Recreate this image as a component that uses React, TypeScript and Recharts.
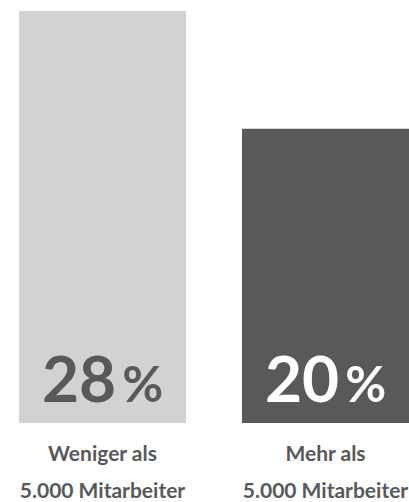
import { BarChart, Bar, XAxis, YAxis, Cell, LabelList } from 'recharts'

const categories = ['Weniger als 5.000 Mitarbeiter', 'Mehr als 5.000 Mitarbeiter']
const categoryLines = [
  ['Weniger als', '5.000 Mitarbeiter'],
  ['Mehr als', '5.000 Mitarbeiter'],
]
const shares = [28, 20]
const barColors = ['#d1d2d4', '#58595b']
const valueColors = ['#58595b', '#ffffff']

const data = categories.map((name, i) => ({ name, share: shares[i] }))

const FONT = 'Lato, "Open Sans", sans-serif'

function CategoryTick(props: any) {
  const { x, y, index } = props
  const lines = categoryLines[index] || []
  return (
    <g>
      {lines.map((line, i) => (
        <text
          key={i}
          x={x}
          y={y + 30 + i * 37}
          textAnchor="middle"
          fontFamily={FONT}
          fontWeight={700}
          fontSize={21}
          fill="#58595b"
        >
          {line}
        </text>
      ))}
    </g>
  )
}

function ValueLabel(props: any) {
  const { x, y, width, height, value, index } = props
  return (
    <text
      x={x + width / 2}
      y={y + height - 21}
      textAnchor="middle"
      fontFamily={FONT}
      fontWeight={700}
      fill={valueColors[index]}
    >
      <tspan fontSize={64}>{value}</tspan>
      <tspan fontSize={50} dx={6}>%</tspan>
    </text>
  )
}

export default function App() {
  return (
    <div style={{ position: 'absolute', left: 0, top: 0, width: 409, height: 502, overflow: 'hidden' }}>
      <BarChart
        width={409}
        height={502}
        data={data}
        margin={{ top: 11, right: -28, bottom: 0, left: -9 }}
        barCategoryGap={0}
      >
        <XAxis
          dataKey="name"
          height={79}
          axisLine={false}
          tickLine={false}
          interval={0}
          tick={<CategoryTick />}
        />
        <YAxis hide domain={[0, 28]} />
        <Bar dataKey="share" barSize={167} isAnimationActive={false}>
          {data.map((d, i) => (
            <Cell key={d.name} fill={barColors[i]} />
          ))}
          <LabelList dataKey="share" content={<ValueLabel />} />
        </Bar>
      </BarChart>
    </div>
  )
}
